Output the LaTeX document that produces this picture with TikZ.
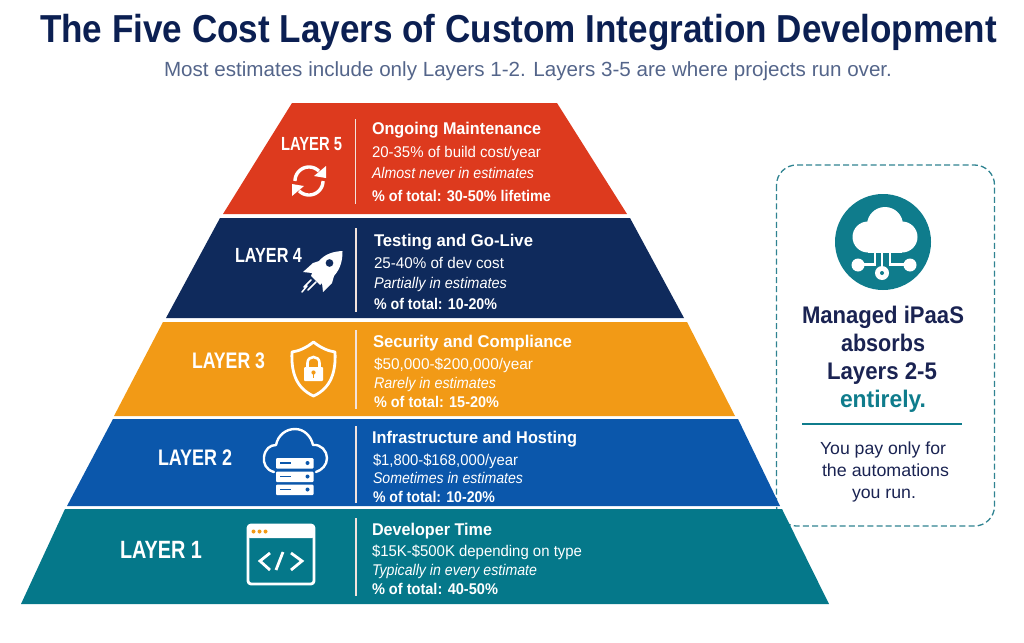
\documentclass[tikz,border=0pt]{standalone}
\usepackage{fontspec}
\usepackage{graphicx}
\setmainfont{Liberation Sans}
\definecolor{cTitle}{HTML}{0B1F52}
\definecolor{cSub}{HTML}{54658A}
\definecolor{cL5}{HTML}{DD3A1E}
\definecolor{cL4}{HTML}{0F2A5C}
\definecolor{cL3}{HTML}{F29A16}
\definecolor{cL2}{HTML}{0B57AB}
\definecolor{cL1}{HTML}{05788A}
\definecolor{cTeal}{HTML}{0F7C8C}
\definecolor{cDash}{HTML}{2F8391}
\definecolor{cPanel}{HTML}{1A2352}
\definecolor{cRule}{HTML}{F3E3DC}
\newcommand{\tline}[6]{\node[txt] (#1) at (#2,#3) {\resizebox{#4pt}{\height}{#5\strut #6}};}
\newcommand{\hfont}{\fontsize{17}{19}\selectfont\bfseries}
\newcommand{\bfont}{\fontsize{15.5}{17}\selectfont}
\newcommand{\ifont}{\fontsize{15.5}{17}\selectfont\itshape}
\newcommand{\pfont}{\fontsize{15.5}{17}\selectfont\bfseries}
\tikzset{
  txt/.style={anchor=base west,inner sep=0pt,outer sep=0pt,text=white},
  divider/.style={draw=cRule,line width=1.4pt},
  iconline/.style={draw=white,line width=2.4pt,line cap=round,line join=round},
}
\begin{document}
\begin{tikzpicture}[x=1pt,y=-1pt]
\useasboundingbox (0,0) rectangle (1024,642);
% panel
\draw[draw=cDash,line width=1.3pt,dash pattern=on 6pt off 3.2pt,rounded corners=20pt] (776.5,165) rectangle (994.5,526);
% layers
\fill[cL5] (292,103) -- (557,103) -- (627,214) -- (223,214) -- cycle;
\fill[cL4] (220,218) -- (630,218) -- (684,318) -- (166,318) -- cycle;
\fill[cL3] (163,322) -- (687,322) -- (735,416) -- (114,416) -- cycle;
\fill[cL2] (113,419) -- (738,419) -- (780,506) -- (67,506) -- cycle;
\fill[cL1] (65,509) -- (782,509) -- (829,604) -- (21,604) -- cycle;
% title
\tline{title}{40}{43}{957}{\fontsize{39}{41}\selectfont\bfseries\color{cTitle}}{The Five Cost Layers of Custom Integration Development}
\tline{subtitle}{164}{76}{728}{\fontsize{20.5}{22}\selectfont\color{cSub}}{Most estimates include only Layers 1-2. Layers 3-5 are where projects run over.}
% layer labels
\tline{lab5}{281}{150}{61}{\fontsize{19}{21}\selectfont\bfseries}{LAYER 5}
\tline{lab4}{235}{262}{67}{\fontsize{20.5}{22}\selectfont\bfseries}{LAYER 4}
\tline{lab3}{192}{368}{73}{\fontsize{22.5}{24}\selectfont\bfseries}{LAYER 3}
\tline{lab2}{158}{465}{74}{\fontsize{22.5}{24}\selectfont\bfseries}{LAYER 2}
\tline{lab1}{120}{558}{82}{\fontsize{25}{27}\selectfont\bfseries}{LAYER 1}
% dividers
\draw[divider] (355.5,119) -- (355.5,204);
\draw[divider] (356,228) -- (356,312);
\draw[divider] (356,330) -- (356,409);
\draw[divider] (356,426) -- (356,503);
\draw[divider] (356,518) -- (356,596);
% layer texts
\tline{l5a}{372}{134}{169}{\hfont}{Ongoing Maintenance}
\tline{l5b}{372}{157}{169}{\bfont}{20-35\% of build cost/year}
\tline{l5c}{372}{178}{162}{\ifont}{Almost never in estimates}
\tline{l5d}{372}{201}{179}{\pfont}{\% of total: 30-50\% lifetime}
\tline{l4a}{374}{246}{159}{\hfont}{Testing and Go-Live}
\tline{l4b}{374}{268}{130}{\bfont}{25-40\% of dev cost}
\tline{l4c}{374}{288}{133}{\ifont}{Partially in estimates}
\tline{l4d}{374}{309}{123}{\pfont}{\% of total: 10-20\%}
\tline{l3a}{373}{347}{199}{\hfont}{Security and Compliance}
\tline{l3b}{374}{369}{159}{\bfont}{\$50,000-\$200,000/year}
\tline{l3c}{374}{388}{122}{\ifont}{Rarely in estimates}
\tline{l3d}{374}{407}{125}{\pfont}{\% of total: 15-20\%}
\tline{l2a}{372}{443}{205}{\hfont}{Infrastructure and Hosting}
\tline{l2b}{373}{465}{145}{\bfont}{\$1,800-\$168,000/year}
\tline{l2c}{373}{483}{150}{\ifont}{Sometimes in estimates}
\tline{l2d}{373}{502}{122}{\pfont}{\% of total: 10-20\%}
\tline{l1a}{372}{535}{120}{\hfont}{Developer Time}
\tline{l1b}{372}{556}{210}{\bfont}{\$15K-\$500K depending on type}
\tline{l1c}{372}{575}{165}{\ifont}{Typically in every estimate}
\tline{l1d}{372}{594}{126}{\pfont}{\% of total: 40-50\%}
% refresh icon
\draw[iconline,line width=3.4pt,line cap=butt] plot[domain=-45:-180,samples=25] ({309+14*cos(\x)},{181+14*sin(\x)});
\fill[white] (326,166) -- (326,178) -- (314,176) -- cycle;
\draw[iconline,line width=3.4pt,line cap=butt] plot[domain=0:135,samples=25] ({309+14*cos(\x)},{181+14*sin(\x)});
\fill[white] (292,196) -- (292,184) -- (304,186) -- cycle;
% rocket icon
\fill[white,even odd rule] (342.5,251) .. controls (333,251.5) and (325,254) .. (319,261) -- (313,263) -- (303,272) -- (312,273) -- (311,276) -- (320,285) -- (322,283) -- (323,292) -- (332,283) -- (334,276) .. controls (341,268) and (342.5,260) .. (342.5,251) -- cycle
  (329.5,263) circle[radius=4];
\draw[white,line width=1.5pt,line cap=round] (304,287) -- (311,280) (308,290) -- (316,282) (302,292) -- (307,286);
% shield icon
\draw[iconline,line width=2.8pt] (313.5,342) .. controls (306,348) and (299,351) .. (292,352) .. controls (291,372) and (296,388) .. (313.5,396) .. controls (331,388) and (336,372) .. (335,352) .. controls (328,351) and (321,348) .. (313.5,342) -- cycle;
\draw[white,line width=2.6pt] (307.5,368) -- (307.5,363) .. controls (307.5,355) and (319.5,355) .. (319.5,363) -- (319.5,368);
\fill[white,rounded corners=1pt] (304,367) rectangle (323,381);
\fill[cL3] (313.5,372.5) circle[radius=2.1];
\fill[cL3] (312.6,373) rectangle (314.4,378);
% cloud and servers icon
\draw[iconline,line width=2.4pt] (274,472) .. controls (266,470) and (263,463) .. (264,457) .. controls (265,449) and (270,445) .. (276,445) .. controls (278,435) and (286,429) .. (295,429) .. controls (304,429) and (311,436) .. (313,445) .. controls (321,444) and (327,451) .. (327,458) .. controls (327,465) and (322,470) .. (316,472);
\foreach \yy in {458,471.5,484.5}{
  \fill[white,rounded corners=1pt] (276,\yy) rectangle (313.5,\yy+10.5);
  \draw[cL2,line width=1.5pt] (280,\yy+5) -- (291,\yy+5);
  \fill[cL2] (307.5,\yy+5) circle[radius=2];
}
% code window icon
\draw[iconline,line width=2.8pt,rounded corners=3pt] (248,525) rectangle (314,584);
\fill[white,rounded corners=2pt] (248,525) rectangle (314,538);
\foreach \xx in {253.5,259.5,265.5}{\fill[cL3] (\xx,531.5) circle[radius=2];}
\draw[iconline,line width=2.8pt,line cap=butt,line join=miter] (270,553) -- (260,561) -- (270,570);
\draw[iconline,line width=2.8pt,line cap=butt] (283,552) -- (276,570);
\draw[iconline,line width=2.8pt,line cap=butt,line join=miter] (291,553) -- (302,561) -- (291,570);
% iPaaS icon
\fill[cTeal] (883,242) circle[radius=48];
\fill[white] (885,225) circle[radius=18];
\fill[white] (868,237) circle[radius=15.5];
\fill[white] (902,237) circle[radius=15.5];
\fill[white] (868,236) rectangle (902,252.5);
\draw[white,line width=2.4pt] (882,252) -- (882,268);
\draw[white,line width=2.4pt] (875,252) -- (875,264.5) -- (858,264.5);
\draw[white,line width=2.4pt] (890,252) -- (890,264.5) -- (910,264.5);
\fill[white] (858,265) circle[radius=6.5];
\fill[white] (910,265) circle[radius=6.5];
\fill[white] (882,273) circle[radius=7];
\fill[cTeal] (882,273) circle[radius=2];
% panel text
\tline{p1}{802}{323}{162}{\fontsize{24}{26}\selectfont\bfseries\color{cPanel}}{Managed iPaaS}
\tline{p2}{841}{351}{84}{\fontsize{24}{26}\selectfont\bfseries\color{cPanel}}{absorbs}
\tline{p3}{827}{379}{110}{\fontsize{24}{26}\selectfont\bfseries\color{cPanel}}{Layers 2-5}
\tline{p4}{840}{407}{86}{\fontsize{24}{26}\selectfont\bfseries\color{cTeal}}{entirely.}
\draw[cTeal,line width=1.3pt] (802,424) -- (962,424);
\tline{p5}{820}{454}{126}{\fontsize{17.5}{19}\selectfont\color{cPanel}}{You pay only for}
\tline{p6}{822}{476}{127}{\fontsize{17.5}{19}\selectfont\color{cPanel}}{the automations}
\tline{p7}{852}{498}{64}{\fontsize{17.5}{19}\selectfont\color{cPanel}}{you run.}
\end{tikzpicture}
\end{document}
